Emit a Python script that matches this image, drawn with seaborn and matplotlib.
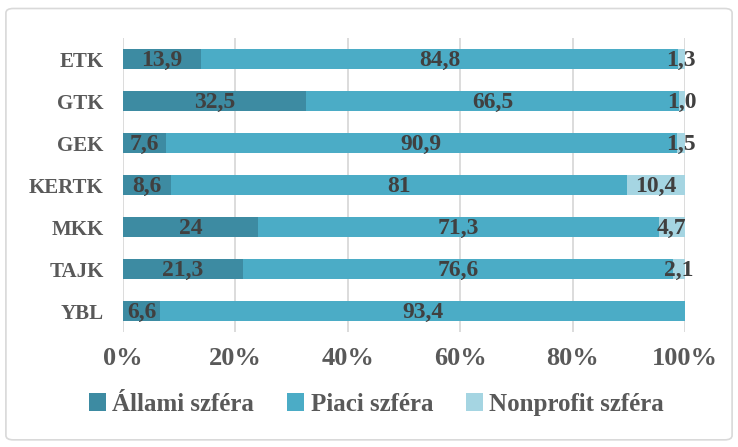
import matplotlib.pyplot as plt
from matplotlib.patches import Patch, FancyBboxPatch
import numpy as np
import pandas as pd
import seaborn as sns

# data (percent shares per faculty)
karok = ['ETK', 'GTK', 'GEK', 'KERTK', 'MKK', 'TAJK', 'YBL']
allami = [13.9, 32.5, 7.6, 8.6, 24, 21.3, 6.6]
piaci = [84.8, 66.5, 90.9, 81, 71.3, 76.6, 93.4]
nonprofit = [1.3, 1.0, 1.5, 10.4, 4.7, 2.1, 0]
cimkek = [['13,9', '84,8', '1,3'], ['32,5', '66,5', '1,0'], ['7,6', '90,9', '1,5'],
          ['8,6', '81', '10,4'], ['24', '71,3', '4,7'], ['21,3', '76,6', '2,1'],
          ['6,6', '93,4', '']]
sorozatok = ['Állami szféra', 'Piaci szféra', 'Nonprofit szféra']
szinek = ['#3d8ba2', '#4bacc6', '#a5d5e2']

sns.set_theme(style='white')
plt.rcParams['font.family'] = ['Liberation Serif', 'DejaVu Serif']
plt.rcParams['font.weight'] = 'bold'

a = np.array(allami)
p = np.array(piaci)
n = np.array(nonprofit)
tot = a + p + n
df = pd.DataFrame({'kar': karok,
                   'c1': a / tot * 100,
                   'c2': (a + p) / tot * 100,
                   'c3': np.full(len(karok), 100.0)})

fig = plt.figure(figsize=(7.38, 4.47), dpi=100)
ax = fig.add_axes([0.1667, 0.257, 0.7615, 0.658])

# stacked bars: draw cumulative totals back to front
for col, c in zip(['c3', 'c2', 'c1'], szinek[::-1]):
    sns.barplot(data=df, x=col, y='kar', color=c, width=0.46,
                saturation=1, ax=ax, edgecolor='none')

# data labels centred in each segment
start = np.zeros(len(karok))
for j, vals in enumerate([a, p, n]):
    share = vals / tot * 100
    for i in range(len(karok)):
        txt = cimkek[i][j]
        if txt:
            ax.text(start[i] + share[i] / 2, i + 0.03, txt, ha='center', va='center',
                    fontsize=17, fontweight='bold', color='#404040')
    start += share

ax.set_xlim(0, 100)
ax.set_ylim(6.5, -0.5)
ax.set_xticks([0, 20, 40, 60, 80, 100])
ax.set_xticklabels(['0%', '20%', '40%', '60%', '80%', '100%'])
ax.set_xlabel('')
ax.set_ylabel('')
ax.grid(axis='x', color='#d9d9d9', linewidth=1.3)
ax.set_axisbelow(True)
for s in ax.spines.values():
    s.set_visible(False)
ax.tick_params(axis='x', labelsize=19, colors='#595959', pad=11, length=0)
ax.tick_params(axis='y', labelsize=15, colors='#595959', pad=14, length=0)
for t in ax.get_xticklabels() + ax.get_yticklabels():
    t.set_fontweight('bold')

handles = [Patch(facecolor=c, edgecolor='none') for c in szinek]
fig.legend(handles, sorozatok, loc='center', bbox_to_anchor=(0.51, 0.096),
           ncol=3, frameon=False, handlelength=0.7, handleheight=0.7,
           handletextpad=0.25, columnspacing=1.3,
           prop={'size': 18, 'weight': 'bold'}, labelcolor='#595959')

fig.patches.append(FancyBboxPatch((0.008, 0.016), 0.984, 0.965,
                                  boxstyle='round,pad=0,rounding_size=0.01',
                                  transform=fig.transFigure, fill=False,
                                  edgecolor='#d9d9d9', linewidth=1.2))

fig.savefig('out.png', dpi=100)
